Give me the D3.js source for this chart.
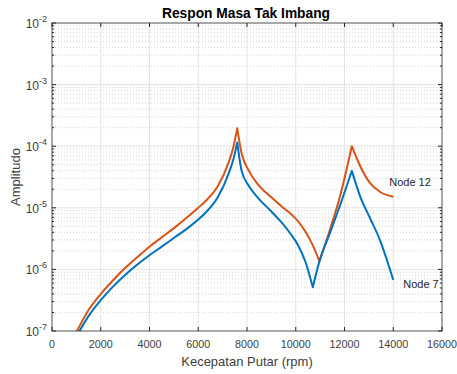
<!DOCTYPE html>
<html>
<head>
<meta charset="utf-8">
<script src="https://cdn.jsdelivr.net/npm/d3@7"></script>
<style>
  body { margin: 0; background: #fff; }
  text { font-family: "Liberation Sans", Arial, sans-serif; }
</style>
</head>
<body>
<div id="chart"></div>
<script>
// data
const rpm = [1000, 1500, 2000, 2500, 3000, 3500, 4000, 4500, 5000, 5500, 6000, 6300, 6800, 7250, 7450,
    7600, 7780, 8050, 8450, 9000, 9400, 9800, 10100, 10400, 10700, 10970, 11400, 11800, 12300,
    12650, 13050, 13450, 14000];
const node12 = [9.55e-8, 2.19e-7, 3.98e-7, 6.61e-7, 1.05e-6, 1.58e-6, 2.34e-6, 3.31e-6, 4.68e-6, 6.76e-6,
    1.0e-5, 1.29e-5, 2.24e-5, 5.5e-5, 1.0e-4, 1.95e-4, 7.59e-5, 4.17e-5, 2.4e-5, 1.48e-5, 1.07e-5,
    7.94e-6, 6.03e-6, 4.07e-6, 2.45e-6, 1.35e-6, 4.37e-6, 1.45e-5, 1.0e-4, 4.68e-5, 2.51e-5, 1.82e-5, 1.51e-5];
const node7 = [8.13e-8, 1.74e-7, 3.16e-7, 5.25e-7, 8.13e-7, 1.2e-6, 1.7e-6, 2.34e-6, 3.24e-6, 4.47e-6,
    6.46e-6, 8.32e-6, 1.48e-5, 3.63e-5, 6.31e-5, 1.15e-4, 3.98e-5, 2.34e-5, 1.45e-5, 8.71e-6, 5.89e-6,
    3.72e-6, 2.45e-6, 1.32e-6, 5.13e-7, 1.35e-6, 3.89e-6, 1.05e-5, 3.98e-5, 1.51e-5, 6.76e-6, 3.02e-6, 6.76e-7];
const xTicks = [0, 2000, 4000, 6000, 8000, 10000, 12000, 14000, 16000];
const yExps = [-7, -6, -5, -4, -3, -2];

const series = [
    { name: "Node 12", values: node12, color: "#D95319", label: [14000, 2.6e-5], dx: -4 },
    { name: "Node 7", values: node7, color: "#0072BD", label: [14000, 5.8e-7], dx: 10 }
];

const W = 457, H = 374;
const margin = { left: 52, right: 15, top: 23, bottom: 43 };
const iw = W - margin.left - margin.right;
const ih = H - margin.top - margin.bottom;

const x = d3.scaleLinear().domain([0, 16000]).range([0, iw]);
const y = d3.scaleLog().domain([1e-7, 1e-2]).range([ih, 0]);

const svg = d3.select("#chart").append("svg")
    .attr("width", W)
    .attr("height", H);

const g = svg.append("g")
    .attr("transform", "translate(" + margin.left + "," + margin.top + ")");

// minor grid (log minors)
const minors = [];
yExps.slice(0, -1).forEach(e => {
    for (let k = 2; k <= 9; k++) minors.push(k * Math.pow(10, e));
});
g.append("g").selectAll("line")
    .data(minors)
    .enter().append("line")
    .attr("x1", 0).attr("x2", iw)
    .attr("y1", d => y(d)).attr("y2", d => y(d))
    .attr("stroke", "#d6d6d6")
    .attr("stroke-dasharray", "1,2");

// major grid
g.append("g").selectAll("line")
    .data(xTicks.slice(1, -1))
    .enter().append("line")
    .attr("x1", d => x(d)).attr("x2", d => x(d))
    .attr("y1", 0).attr("y2", ih)
    .attr("stroke", "#e3e3e3");
g.append("g").selectAll("line")
    .data(yExps.slice(1, -1))
    .enter().append("line")
    .attr("x1", 0).attr("x2", iw)
    .attr("y1", d => y(Math.pow(10, d))).attr("y2", d => y(Math.pow(10, d)))
    .attr("stroke", "#e3e3e3");

// curves
g.append("clipPath").attr("id", "clip")
    .append("rect").attr("width", iw).attr("height", ih);

const line = d3.line()
    .x(d => x(d[0]))
    .y(d => y(d[1]))
    .curve(d3.curveMonotoneX);

// split at peaks / dips so they stay sharp, smooth in between
function pathFor(values) {
    const pts = values.map((v, i) => [rpm[i], v]);
    let d = "", start = 0;
    for (let i = 1; i < pts.length - 1; i++) {
        const a = pts[i - 1][1], b = pts[i][1], c = pts[i + 1][1];
        if ((b > a && b > c) || (b < a && b < c)) {
            d += line(pts.slice(start, i + 1)).replace(start > 0 ? /^M[^A-Za-z]*/ : /^$/, "");
            start = i;
        }
    }
    d += line(pts.slice(start)).replace(start > 0 ? /^M[^A-Za-z]*/ : /^$/, "");
    return d;
}

series.forEach(s => {
    g.append("path")
        .attr("clip-path", "url(#clip)")
        .attr("d", pathFor(s.values))
        .attr("fill", "none")
        .attr("stroke", s.color)
        .attr("stroke-width", 2)
        .attr("stroke-linejoin", "round");
});

// box and ticks
g.append("rect")
    .attr("width", iw).attr("height", ih)
    .attr("fill", "none")
    .attr("stroke", "#262626")
    .attr("stroke-width", 0.8);

const tl = 4;
xTicks.forEach(t => {
    g.append("line").attr("x1", x(t)).attr("x2", x(t)).attr("y1", ih).attr("y2", ih - tl).attr("stroke", "#262626");
    g.append("line").attr("x1", x(t)).attr("x2", x(t)).attr("y1", 0).attr("y2", tl).attr("stroke", "#262626");
});
yExps.forEach(e => {
    const yy = y(Math.pow(10, e));
    g.append("line").attr("x1", 0).attr("x2", tl).attr("y1", yy).attr("y2", yy).attr("stroke", "#262626");
    g.append("line").attr("x1", iw).attr("x2", iw - tl).attr("y1", yy).attr("y2", yy).attr("stroke", "#262626");
});
minors.forEach(m => {
    g.append("line").attr("x1", 0).attr("x2", 2).attr("y1", y(m)).attr("y2", y(m)).attr("stroke", "#262626");
    g.append("line").attr("x1", iw).attr("x2", iw - 2).attr("y1", y(m)).attr("y2", y(m)).attr("stroke", "#262626");
});

// tick labels
g.append("g").selectAll("text")
    .data(xTicks)
    .enter().append("text")
    .attr("x", d => x(d))
    .attr("y", ih + 17)
    .attr("text-anchor", "middle")
    .attr("font-size", 10.8)
    .attr("fill", "#404040")
    .text(d => d);

const yl = g.append("g").selectAll("text")
    .data(yExps)
    .enter().append("text")
    .attr("x", -5)
    .attr("y", d => y(Math.pow(10, d)) + 5)
    .attr("text-anchor", "end")
    .attr("font-size", 12)
    .attr("fill", "#404040");
yl.append("tspan").text("10");
yl.append("tspan").attr("dy", -6).attr("font-size", 9).text(d => "-" + Math.abs(d));

// series labels
series.forEach(s => {
    g.append("text")
        .attr("x", x(s.label[0]) + s.dx)
        .attr("y", y(s.label[1]) + 4)
        .attr("font-size", 11)
        .attr("fill", "#262626")
        .text(s.name);
});

// titles
svg.append("text")
    .attr("x", 246)
    .attr("y", 18)
    .attr("text-anchor", "middle")
    .attr("font-size", 14)
    .attr("font-weight", "bold")
    .attr("fill", "#000")
    .attr("textLength", 168)
    .attr("lengthAdjust", "spacingAndGlyphs")
    .text("Respon Masa Tak Imbang");

svg.append("text")
    .attr("x", margin.left + iw / 2)
    .attr("y", H - 8)
    .attr("text-anchor", "middle")
    .attr("font-size", 13)
    .attr("fill", "#404040")
    .text("Kecepatan Putar (rpm)");

svg.append("text")
    .attr("transform", "translate(20," + (margin.top + ih / 2) + ") rotate(-90)")
    .attr("text-anchor", "middle")
    .attr("font-size", 13)
    .attr("fill", "#404040")
    .text("Amplitudo");
</script>
</body>
</html>
